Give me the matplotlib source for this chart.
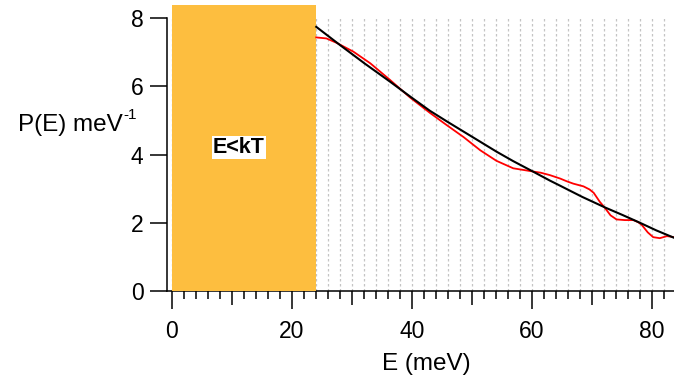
import matplotlib
matplotlib.use('Agg')
import matplotlib.pyplot as plt
from matplotlib.patches import Rectangle
from matplotlib.ticker import MultipleLocator, FixedLocator

plt.rcParams['font.family'] = ['Liberation Sans', 'DejaVu Sans']

# --- Daten ---
kT = 24.1          # Grenze des E<kT-Bereichs (meV)
box_top = 8.4

fit_E = [24.1, 28.1, 32.2, 36.4, 39.7, 43.0, 45.9, 48.6, 51.4, 54.1, 56.9,
         59.7, 63.0, 64.7, 68.4, 72.2, 75.1, 77.9, 80.7, 83.7]
fit_P = [7.75, 7.21, 6.67, 6.14, 5.71, 5.29, 4.97, 4.68, 4.38, 4.09, 3.81,
         3.55, 3.24, 3.09, 2.76, 2.45, 2.23, 2.01, 1.78, 1.56]

meas_E = [24.1, 25.8, 27.5, 30.3, 33.1, 36.4, 39.7, 43.0, 45.8, 48.6, 51.4,
          54.1, 56.9, 59.7, 61.5, 63.0, 64.7, 65.8, 66.9, 68.6, 69.6, 70.3,
          71.3, 72.2, 73.1, 74.1, 75.5, 76.9, 77.7, 78.3, 79.3, 80.2, 81.3,
          82.5, 83.7]
meas_P = [7.44, 7.41, 7.28, 7.02, 6.68, 6.19, 5.68, 5.23, 4.87, 4.52, 4.13,
          3.82, 3.60, 3.52, 3.47, 3.40, 3.30, 3.22, 3.15, 3.07, 2.98, 2.88,
          2.62, 2.43, 2.22, 2.10, 2.08, 2.08, 2.02, 1.94, 1.72, 1.58, 1.55,
          1.61, 1.58]

# --- Plot ---
fig = plt.figure(figsize=(6.74, 3.81), dpi=100)
ax = fig.add_axes([0.2478, 0.2362, 0.7522, 0.7157])

ax.plot(meas_E, meas_P, color='#ff0000', lw=1.3, zorder=4)
ax.plot(fit_E, fit_P, color='black', lw=1.5, zorder=5)

ax.add_patch(Rectangle((0, 0), kT, box_top, facecolor='#FDBE3F',
                       edgecolor='none', clip_on=False, zorder=3))
ax.text(11.2, 4.21, 'E<kT', fontsize=15.5, fontweight='bold', ha='center',
        va='center', zorder=6,
        bbox=dict(facecolor='white', edgecolor='none', pad=1))

ax.set_xlim(-0.75, 83.67)
ax.set_ylim(0, 8)

for s in ['top', 'right']:
    ax.spines[s].set_visible(False)
for s in ['left', 'bottom']:
    ax.spines[s].set_linewidth(1.1)

ax.xaxis.set_major_locator(MultipleLocator(20))
ax.xaxis.set_minor_locator(FixedLocator([v for v in range(0, 84, 2) if v % 10]))
ax.yaxis.set_major_locator(MultipleLocator(2))
ax.tick_params(axis='x', which='major', length=13, width=1.1, labelsize=16.5, pad=8)
ax.tick_params(axis='x', which='minor', length=6, width=1.1)
ax.tick_params(axis='y', which='major', length=12, width=1.1, labelsize=16.5, pad=5)

# mittlere Ticks bei 10, 30, 50, 70
sec = ax.secondary_xaxis(0)
sec.xaxis.set_major_locator(FixedLocator([10, 30, 50, 70]))
sec.tick_params(length=10, width=1.1, labelbottom=False)
sec.spines['bottom'].set_visible(False)

# gepunktetes Gitter alle 2 meV
for v in range(0, 84, 2):
    ax.axvline(v, color='#c4c4c4', lw=0.9, ls=(0, (2, 2)), zorder=1)

# Achsenbeschriftungen
ax.text(0.512, -0.290, 'E (meV)', fontsize=17.5, ha='center', va='baseline',
        transform=ax.transAxes)
ax.text(-0.0868, 0.588, 'P(E) meV', fontsize=17.5, ha='right', va='baseline',
        transform=ax.transAxes)
ax.text(-0.0858, 0.630, '-1', fontsize=11, ha='left', va='baseline',
        transform=ax.transAxes)

fig.savefig('out.png', dpi=100)
